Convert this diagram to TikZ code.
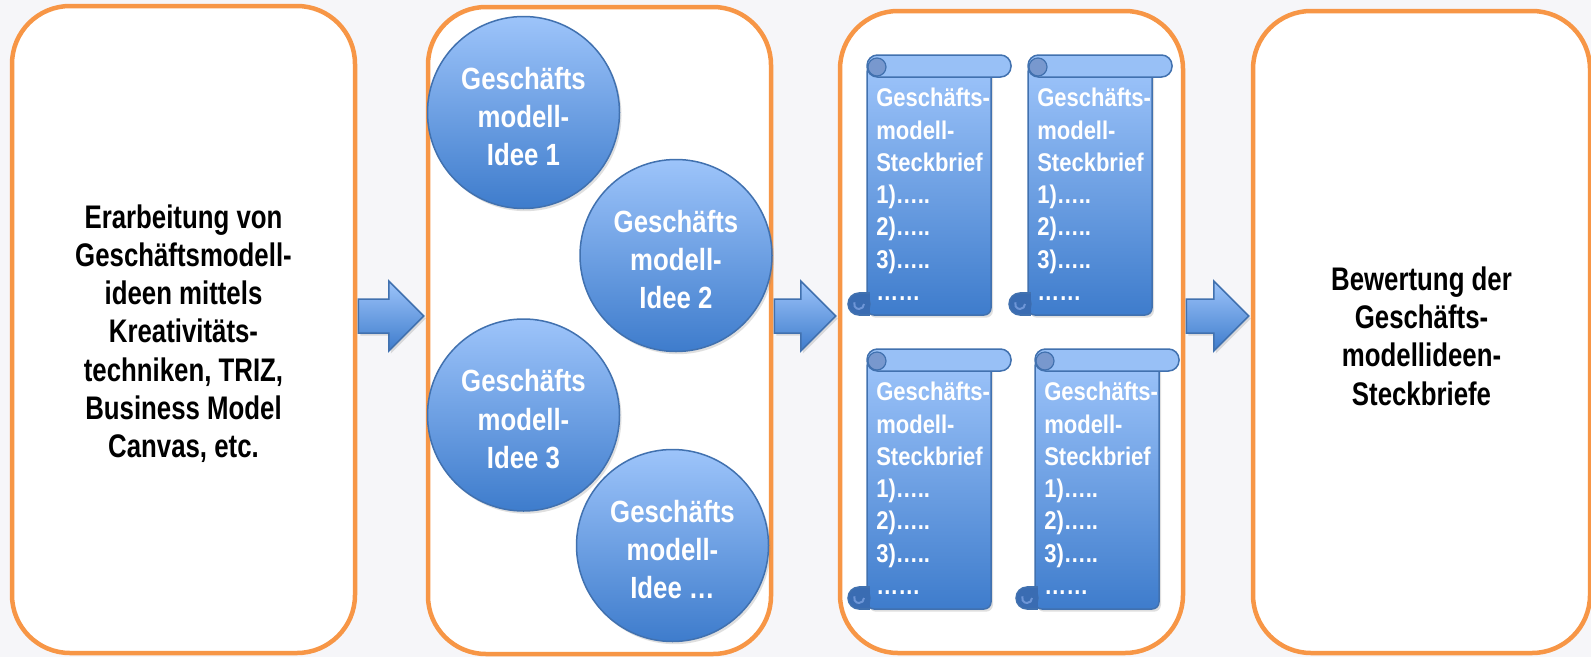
\documentclass[tikz,border=0pt]{standalone}
\usepackage{fontspec}
\setmainfont{Liberation Sans}
\newfontfamily\boxfont{Liberation Sans}[FakeStretch=0.79]
\newfontfamily\circfont{Liberation Sans}[FakeStretch=0.84]
\newfontfamily\scrfont{Liberation Sans}[FakeStretch=0.86]
\usetikzlibrary{shadows,calc}
\newcommand\pxu[1]{#1*0.75pt}
\newcommand\toppad[1]{\rule{0pt}{#1}}
\definecolor{orangeline}{RGB}{247,150,70}
\definecolor{bgcol}{RGB}{246,246,249}
\definecolor{blueL}{RGB}{157,196,250}
\definecolor{blueD}{RGB}{62,124,204}
\definecolor{blueB}{RGB}{65,113,175}
\definecolor{rollL}{RGB}{152,192,246}
\definecolor{curlD}{RGB}{58,108,178}
\definecolor{curlM}{RGB}{120,152,206}
\definecolor{curlL}{RGB}{110,150,215}
\tikzset{
  bigbox/.style={draw=orangeline, line width=\pxu{4.5}, fill=white,
    rounded corners=\pxu{58}, inner sep=0pt, align=center, text=black,
    font=\boxfont\bfseries\fontsize{24.5pt}{28.7pt}\selectfont},
  idea/.style={circle, draw=blueB, line width=\pxu{1.5}, top color=blueL,
    bottom color=blueD, minimum size=\pxu{192}, inner sep=0pt, align=center,
    text=white, font=\circfont\bfseries\fontsize{23pt}{28.7pt}\selectfont,
    drop shadow={opacity=0.25, shadow xshift=1.5pt, shadow yshift=-2pt}},
  bigarrow/.style={draw=blueB, line width=\pxu{1.5}, top color=blueL,
    bottom color=blueD,
    drop shadow={opacity=0.25, shadow xshift=1.5pt, shadow yshift=-2pt}},
  scrolltext/.style={anchor=north west, inner sep=0pt, align=left, text=white,
    font=\scrfont\bfseries\fontsize{19.2pt}{24.2pt}\selectfont},
  pics/scroll/.style={code={
    \path[draw=blueB, line width=\pxu{1.5}, top color=blueL, bottom color=blueD,
      rounded corners=\pxu{7},
      drop shadow={opacity=0.25, shadow xshift=1.5pt, shadow yshift=-2pt}]
      (0,10) rectangle (124,260);
    \filldraw[fill=curlD, draw=blueB, line width=\pxu{1.5}] (-8,249) circle (11);
    \fill[curlD] (-8,238.8) rectangle (3,259.2);
    \draw[blueB, line width=\pxu{1.5}] (-8,238) -- (3,238);
    \draw[blueB, line width=\pxu{1.5}] (-8,260) -- (3,260);
    \draw[curlL, line width=\pxu{2}] (-3,249) arc[start angle=0, end angle=200, radius=5];
    \path[fill=rollL, draw=blueB, line width=\pxu{1.5}, rounded corners=\pxu{10.5}]
      (0,0) rectangle (144,22);
    \filldraw[fill=curlM, draw=blueB, line width=\pxu{1.2}] (10,12) circle (9);
    \node[scrolltext] (-t) at (9,33)
      {Geschäfts-\\modell-\\Steckbrief\\1)…..\\2)…..\\3)…..\\……};
  }}
}
\begin{document}
\begin{tikzpicture}[x=0.75pt, y=-0.75pt]
\fill[bgcol] (0,0) rectangle (1591,657);
\useasboundingbox (0,0) rectangle (1591,657);

% boxes
\node[bigbox, minimum width=\pxu{343}, minimum height=\pxu{647}] (b1) at (183.5,329.5)
  {\toppad{24pt}Erarbeitung von\\Geschäftsmodell-\\ideen mittels\\Kreativitäts-\\techniken, TRIZ,\\Business Model\\Canvas, etc.};
\node[bigbox, minimum width=\pxu{343}, minimum height=\pxu{647}] (b2) at (599.5,330.5) {};
\node[bigbox, minimum width=\pxu{343}, minimum height=\pxu{642}] (b3) at (1011.5,332) {};
\node[bigbox, minimum width=\pxu{337}, minimum height=\pxu{642}] (b4) at (1421.5,332)
  {\toppad{24pt}Bewertung der\\Geschäfts-\\modellideen-\\Steckbriefe};

% arrows
\path[bigarrow] ($(b2.west|-0,316)+(-2,0)$) coordinate (tipA)
  -- ++(-35,-35) -- ++(0,18) -- ($(b1.east|-0,299)+(1,0)$)
  -- ($(b1.east|-0,333)+(1,0)$) -- ($(tipA)+(-35,17)$) -- ++(0,18) -- cycle;
\path[bigarrow] ($(b3.west|-0,316)+(-2,0)$) coordinate (tipB)
  -- ++(-35,-35) -- ++(0,18) -- ($(b2.east|-0,299)+(1,0)$)
  -- ($(b2.east|-0,333)+(1,0)$) -- ($(tipB)+(-35,17)$) -- ++(0,18) -- cycle;
\path[bigarrow] ($(b4.west|-0,316)+(-2,0)$) coordinate (tipC)
  -- ++(-35,-35) -- ++(0,18) -- ($(b3.east|-0,299)+(1,0)$)
  -- ($(b3.east|-0,333)+(1,0)$) -- ($(tipC)+(-35,17)$) -- ++(0,18) -- cycle;

% ideas
\node[idea] (c1) at (523.5,112.5) {\toppad{23pt}Geschäfts\\modell-\\Idee 1};
\node[idea] (c2) at (676,255.5) {\toppad{23pt}Geschäfts\\modell-\\Idee 2};
\node[idea] (c3) at (523.5,415) {\toppad{23pt}Geschäfts\\modell-\\Idee 3};
\node[idea] (c4) at (672.5,545.5) {\toppad{23pt}Geschäfts\\modell-\\Idee …};

% scrolls
\pic (s1) at (867,55) {scroll};
\pic (s2) at (1028,55) {scroll};
\pic (s3) at (867,349) {scroll};
\pic (s4) at (1035,349) {scroll};
\end{tikzpicture}
\end{document}
